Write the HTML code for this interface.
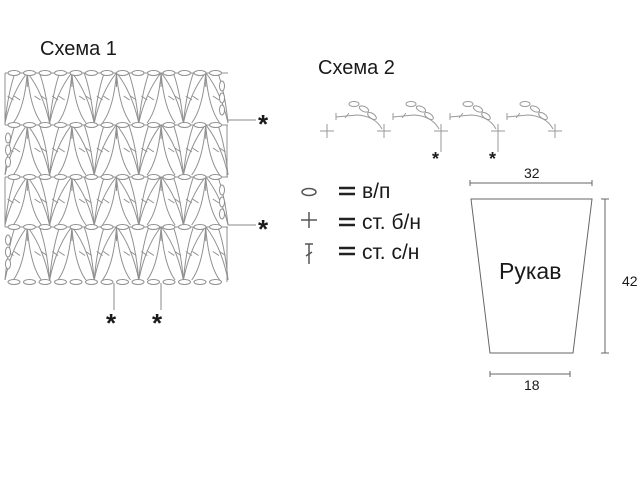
<!DOCTYPE html>
<html><head><meta charset="utf-8"><style>
html,body{margin:0;padding:0;background:#fff;width:640px;height:480px;overflow:hidden}
svg{display:block}
text{font-family:"Liberation Sans","DejaVu Sans",sans-serif;fill:#1a1a1a}
</style></head><body>
<svg id="s" width="640" height="480" viewBox="0 0 640 480" xmlns="http://www.w3.org/2000/svg">
<defs><clipPath id="cp"><rect x="2" y="60" width="228" height="230"/></clipPath></defs>
<text x="40" y="55" font-size="20">Схема 1</text>
<text x="318" y="74" font-size="20">Схема 2</text>
<g id="grid" stroke="#909090" stroke-width="1" fill="none" clip-path="url(#cp)"></g>
<g stroke="#888" stroke-width="1">
<line x1="228" y1="120" x2="256" y2="120"/>
<line x1="228" y1="225" x2="256" y2="225"/>
<line x1="114" y1="283" x2="114" y2="310"/>
<line x1="161" y1="283" x2="161" y2="310"/>
</g>
<g font-size="26" font-weight="bold">
<text x="258" y="133">*</text>
<text x="258" y="238">*</text>
<text x="106" y="332">*</text>
<text x="152" y="332">*</text>
</g>
<g id="s2" stroke="#999" stroke-width="1" fill="none"></g>
<g font-size="18" font-weight="bold">
<text x="432" y="165">*</text>
<text x="489" y="165">*</text>
</g>
<g stroke="#555" stroke-width="1.5" fill="none">
<ellipse cx="309" cy="192" rx="7" ry="3.5"/>
<line x1="301" y1="220" x2="317" y2="220"/><line x1="309" y1="212" x2="309" y2="228"/>
<line x1="305" y1="244" x2="313" y2="244"/><line x1="309" y1="244" x2="309" y2="264"/><line x1="306" y1="256" x2="312" y2="252"/>
</g>
<g stroke="#222" stroke-width="2.5">
<line x1="339" y1="188" x2="355" y2="188"/><line x1="339" y1="194" x2="355" y2="194"/>
<line x1="339" y1="219" x2="355" y2="219"/><line x1="339" y1="225" x2="355" y2="225"/>
<line x1="339" y1="248" x2="355" y2="248"/><line x1="339" y1="254" x2="355" y2="254"/>
</g>
<g font-size="21">
<text x="362" y="198">в/п</text>
<text x="362" y="229">ст. б/н</text>
<text x="362" y="259">ст. с/н</text>
</g>
<g stroke="#666" stroke-width="1" fill="none">
<polygon points="471,199 592,199 573,353 490,353"/>
<line x1="470" y1="183" x2="592" y2="183"/><line x1="470" y1="180" x2="470" y2="186"/><line x1="592" y1="180" x2="592" y2="186"/>
<line x1="605" y1="199" x2="605" y2="353"/><line x1="601" y1="199" x2="609" y2="199"/><line x1="601" y1="353" x2="609" y2="353"/>
<line x1="490" y1="374" x2="570" y2="374"/><line x1="490" y1="371" x2="490" y2="377"/><line x1="570" y1="371" x2="570" y2="377"/>
</g>
<text x="524" y="178" font-size="14">32</text>
<text x="622" y="286" font-size="14">42</text>
<text x="524" y="390" font-size="14">18</text>
<text x="499" y="279" font-size="23">Рукав</text>
</svg>
<script>
(function(){
var NS="http://www.w3.org/2000/svg";
function el(p,t,a){var e=document.createElementNS(NS,t);for(var k in a)e.setAttribute(k,a[k]);p.appendChild(e);return e;}
var g=document.getElementById("grid");
var rows=[73,125,177,227,282];
for(var i=0;i<4;i++){el(g,"line",{x1:5,y1:rows[i],x2:228,y2:rows[i]});}
for(var i=0;i<4;i++){
  var t0=rows[i],b0=rows[i+1]-2;
  for(var c=0;c<6;c++){
    var bx=5+c*44.6;
    [-22,-10,10,22].forEach(function(d){
      var tx=bx+d; if(tx<3||tx>229)return;
      el(g,"path",{d:"M"+bx+" "+b0+" Q"+(bx+d*0.3)+" "+(t0+20)+" "+tx+" "+t0});
      var my=(t0+b0)/2, mx=bx+d*0.55;
      el(g,"line",{x1:mx-3,y1:my-2,x2:mx+3,y2:my+2});
    });
    var tx2=bx+22.3;
    if(tx2<228){
      [-14,14].forEach(function(d){
        el(g,"path",{d:"M"+tx2+" "+t0+" Q"+(tx2+d*0.2)+" "+(b0-15)+" "+(tx2+d)+" "+b0});
      });
      el(g,"line",{x1:tx2,y1:t0,x2:tx2,y2:t0+14});
    }
  }
}
for(var i=0;i<4;i++){
  var t0=rows[i],b0=rows[i+1];
  var right=(i%2==0);
  var sx=right?222:8;
  el(g,"line",{x1:right?5:227,y1:t0,x2:right?5:227,y2:b0});
  for(var k=0;k<3;k++) el(g,"ellipse",{cx:sx,cy:t0+13+k*12,rx:2.5,ry:5,fill:"#fff"});
}
for(var i=0;i<5;i++){
  var y=rows[i];
  for(var x=8;x<222;x+=15.5){
    el(g,"ellipse",{cx:x+6,cy:y,rx:6,ry:2.5,fill:"#fff"});
  }
}
var s=document.getElementById("s2");
var xs=[327,384,441,498,555];
xs.forEach(function(x){el(s,"line",{x1:x-7,y1:131,x2:x+7,y2:131});el(s,"line",{x1:x,y1:124,x2:x,y2:138});});
for(var k=0;k<4;k++){
  var x=xs[k];
  el(s,"path",{d:"M"+(x+9)+" 117 L"+(x+30)+" 115 Q"+(x+48)+" 116 "+(xs[k+1]-2)+" 129"});
  el(s,"line",{x1:x+9,y1:113,x2:x+9,y2:120});
  el(s,"line",{x1:x+18,y1:118,x2:x+22,y2:113});
  el(s,"ellipse",{cx:x+27,cy:104,rx:5,ry:2.5});
  el(s,"ellipse",{cx:x+37,cy:109,rx:5,ry:2.5,transform:"rotate(25 "+(x+37)+" 109)"});
  el(s,"ellipse",{cx:x+45,cy:116,rx:5,ry:2.5,transform:"rotate(35 "+(x+45)+" 116)"});
}
el(s,"line",{x1:441,y1:138,x2:441,y2:152});
el(s,"line",{x1:498,y1:138,x2:498,y2:152});
})();
</script>
</body></html>
